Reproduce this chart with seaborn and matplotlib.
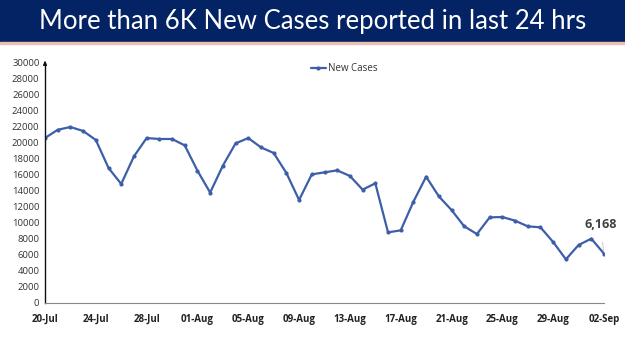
import pandas as pd
import matplotlib
matplotlib.use("Agg")
import matplotlib.pyplot as plt
import seaborn as sns

# daily new cases, 20-Jul .. 02-Sep
new_cases = [20625, 21650, 22000, 21500, 20380, 16880, 14880, 18330, 20620, 20500,
             20500, 19700, 16540, 13800, 17170, 19950, 20620, 19450, 18750, 16250,
             12880, 16080, 16330, 16580, 15880, 14170, 14960, 8830, 9080, 12670,
             15790, 13330, 11620, 9580, 8620, 10700, 10750, 10290, 9580, 9460,
             7620, 5460, 7250, 8040, 6168]
dates = pd.date_range("2020-07-20", periods=len(new_cases), freq="D")
tick_labels = ["20-Jul", "24-Jul", "28-Jul", "01-Aug", "05-Aug", "09-Aug",
               "13-Aug", "17-Aug", "21-Aug", "25-Aug", "29-Aug", "02-Sep"]
y_ticks = list(range(0, 30001, 2000))
title = "More than 6K New Cases reported in last 24 hrs"

df = pd.DataFrame({"day": range(len(new_cases)), "New Cases": new_cases, "date": dates})

sns.set_style("white")
plt.rcParams["font.family"] = ["Open Sans", "DejaVu Sans"]

fig = plt.figure(figsize=(6.25, 3.51), dpi=100)
# title banner + thin peach rule under it
fig.patches.append(plt.Rectangle((0, 1 - 42 / 351), 1, 42 / 351, transform=fig.transFigure,
                                 color="#032364", zorder=0))
fig.patches.append(plt.Rectangle((0, 1 - 43.5 / 351), 1, 1.5 / 351, transform=fig.transFigure,
                                 color="#ecc0ae", zorder=0))
fig.text(0.5, 1 - 21 / 351, title, color="white", fontsize=18.5, ha="center", va="center",
         family=["Lato", "DejaVu Sans"])

ax = fig.add_axes([45 / 625, 1 - 303 / 351, (604 - 45) / 625, (303 - 63) / 351])
sns.lineplot(data=df, x="day", y="New Cases", ax=ax, color="#3d5ea8", linewidth=1.6,
             marker="o", markersize=3, markeredgewidth=0, label="New Cases")

ax.set_xlim(0, len(new_cases) - 1)
ax.set_ylim(0, 30000)
ax.set_yticks(y_ticks)
ax.set_yticklabels([str(v) for v in y_ticks], fontsize=6.8, color="#333333")
ax.set_xticks(range(0, len(new_cases), 4))
ax.set_xticklabels(tick_labels, fontsize=7, fontweight="bold", color="#222222")
ax.set_xlabel("")
ax.set_ylabel("")
ax.tick_params(axis="x", length=3, width=0.8, color="#888888", pad=5, direction="out")
ax.tick_params(axis="y", length=0, pad=4)
for s in ["top", "right"]:
    ax.spines[s].set_visible(False)
ax.spines["bottom"].set_color("#888888")
ax.spines["left"].set_color("#111111")
ax.spines["left"].set_linewidth(1)
ax.annotate("", xy=(0, 1.02), xytext=(0, 0.99), xycoords="axes fraction",
            arrowprops=dict(arrowstyle="-|>", color="#111111", lw=1, mutation_scale=5))

leg = ax.legend(loc="upper center", bbox_to_anchor=(0.535, 1.035), frameon=False,
                fontsize=7, handlelength=1.6, handletextpad=0.2)
for t in leg.get_texts():
    t.set_color("#333333")

last = len(new_cases) - 1
ax.annotate(f"{new_cases[-1]:,}", xy=(last, new_cases[-1]), xytext=(last - 0.3, new_cases[-1] + 3700),
            fontsize=9, fontweight="bold", color="#404040", ha="center", va="center",
            arrowprops=dict(arrowstyle="-", color="#d9b8b8", lw=0.6, shrinkA=6, shrinkB=2))

fig.savefig("out.png", dpi=100)
